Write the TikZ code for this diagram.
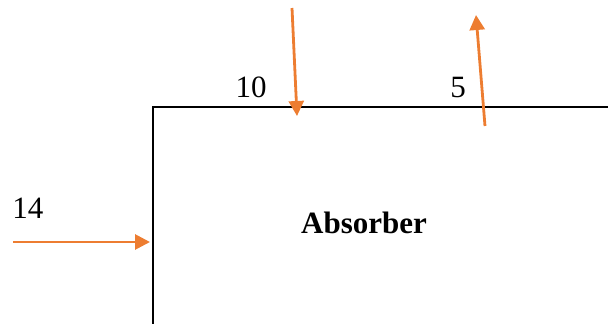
\documentclass[tikz,border=0pt]{standalone}
\usepackage{fontspec}
\setmainfont{Liberation Serif}
\usetikzlibrary{arrows.meta}
\definecolor{flux}{HTML}{ED7D31}
\begin{document}
\begin{tikzpicture}[x=1pt,y=-1pt,
  wall/.style={draw=black,line width=2.8pt},
  fluxarrow/.style={draw=flux,line width=2.8pt,-{Triangle[length=15pt,width=15pt]}},
  lbl/.style={anchor=base,inner sep=0pt,font=\fontsize{31}{36}\selectfont}]
\useasboundingbox (0,0) rectangle (608,324);
% absorber walls
\coordinate (bl) at (153,326);
\coordinate (tl) at (153,107);
\coordinate (tr) at (610,107);
\draw[wall] (bl) -- (tl) -- (tr);
\node[lbl,font=\fontsize{31}{36}\selectfont\bfseries] (abs) at (364,233) {Absorber};
% arrows
\coordinate (a1s) at (292,8);
\coordinate (a1e) at (297,116);
\draw[fluxarrow] (a1s) -- (a1e);
\coordinate (a2s) at (485,126);
\coordinate (a2e) at (476,15);
\draw[fluxarrow] (a2s) -- (a2e);
\coordinate (a3s) at (13,242);
\coordinate (a3e) at (150,242);
\draw[fluxarrow] (a3s) -- (a3e);
% labels
\node[lbl] (l10) at (251,97) {10};
\node[lbl] (l5) at (458,97) {5};
\node[lbl] (l14) at (28,218) {14};
\end{tikzpicture}
\end{document}
